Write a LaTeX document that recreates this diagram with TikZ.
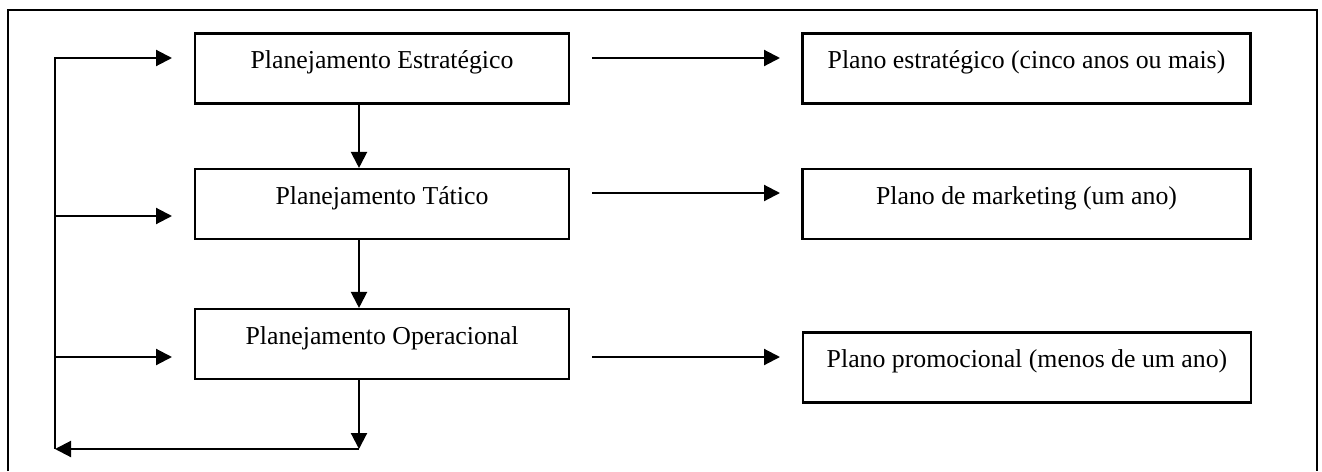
\documentclass[tikz,border=0pt]{standalone}
\usepackage{fontspec}
\setmainfont{Liberation Serif}
\usetikzlibrary{arrows.meta}

\begin{document}
\begin{tikzpicture}[x=1pt,y=-1pt,
  line width=2.1pt,
  box/.style={draw, inner sep=0pt, text height=35pt, text depth=35pt,
    font=\fontsize{25.8}{30}\selectfont},
  levelbox/.style={box, minimum width=374pt},
  planbox/.style={box, minimum width=448pt},
  arr/.style={-{Triangle[length=16pt,width=16pt]}},
]
\useasboundingbox (0,0) rectangle (1322,471);

% outer frame, open at the bottom
\draw (8,471) -- (8,10) -- (1317,10) -- (1317,471);

% planning levels
\node[levelbox] (est) at (382,68.5) {Planejamento Estratégico};
\node[levelbox] (tat) at (382,204)  {Planejamento Tático};
\node[levelbox] (ope) at (382,344)  {Planejamento Operacional};

% resulting plans
\node[planbox] (pe) at (1026.5,68.5) {Plano estratégico (cinco anos ou mais)};
\node[planbox] (pm) at (1026.5,204)  {Plano de marketing (um ano)};
\node[planbox] (pp) at (1027,367.5)  {Plano promocional (menos de um ano)};

% free ends of the arrows between the columns
\coordinate (a1s) at (592,58);  \coordinate (a1e) at (780,58);
\coordinate (a2s) at (592,193); \coordinate (a2e) at (780,193);
\coordinate (a3s) at (592,357); \coordinate (a3e) at (780,357);
\draw[arr] (a1s) -- (a1e);
\draw[arr] (a2s) -- (a2e);
\draw[arr] (a3s) -- (a3e);

% top-down flow, on the line x = 359
\coordinate (bot) at (359,449);
\draw[arr] (est.south -| bot) -- (tat.north -| bot);
\draw[arr] (tat.south -| bot) -- (ope.north -| bot);
\draw[arr] (ope.south -| bot) -- (bot);

% feedback loop on the left
\coordinate (lb) at (55,449);
\coordinate (lt) at (55,58);
\coordinate (in1) at (172,58);
\coordinate (l2) at (55,216);  \coordinate (in2) at (172,216);
\coordinate (l3) at (55,357);  \coordinate (in3) at (172,357);
\draw[arr] (bot) -- (lb);
\draw[arr,line join=miter] (lb) -- (lt) -- (in1);
\draw[arr] (l2) -- (in2);
\draw[arr] (l3) -- (in3);
\end{tikzpicture}
\end{document}
